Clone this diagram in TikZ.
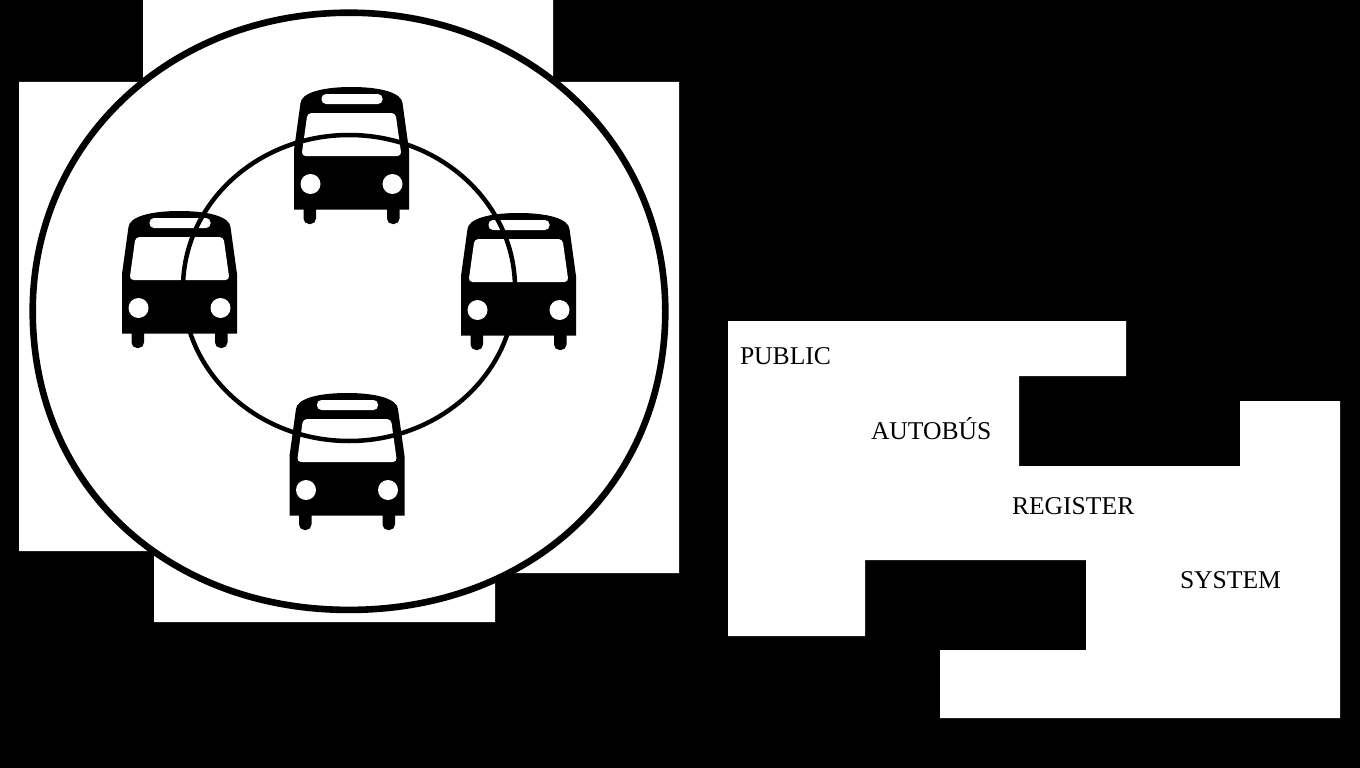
\documentclass[tikz,border=0pt]{standalone}
\usepackage{fontspec}
\setmainfont{Liberation Serif}
\tikzset{
  lbl/.style={anchor=base west,inner sep=0pt,outer sep=0pt,text=black,font=\fontsize{25.6}{28}\selectfont},
  busicon/.pic={
    % body
    \fill[black] (-57.5,122.5) -- (-57.5,63) -- (-51,16)
      .. controls (-50,6) and (-30,0) .. (0,0)
      .. controls (30,0) and (50,6) .. (51,16)
      -- (57.5,63) -- (57.5,122.5) -- cycle;
    % wheels
    \fill[black,rounded corners=5.5pt] (-48,115) rectangle (-35.5,137);
    \fill[black,rounded corners=5.5pt] (35.5,115) rectangle (48,137);
    % sign
    \fill[white,rounded corners=4.5pt] (-30,7) rectangle (31,17);
    % windscreen
    \fill[white,rounded corners=4pt] (-44,26) -- (44,26) -- (50,69) -- (-50,69) -- cycle;
    % headlights
    \fill[white] (-41,97) circle[radius=10];
    \fill[white] (41,97) circle[radius=10];
  }
}
\begin{document}
\begin{tikzpicture}[x=1pt,y=-1pt]
  \fill[black] (0,0) rectangle (1360,768);
  \useasboundingbox (0,0) rectangle (1360,768);
  % left white panel
  \fill[white] (143,0) -- (553,0) -- (553,82) -- (679,82) -- (679,573) -- (495,573)
    -- (495,622) -- (154,622) -- (154,551) -- (19,551) -- (19,82) -- (143,82) -- cycle;
  % right white panel
  \fill[white] (728,321) -- (1126,321) -- (1126,376) -- (1019,376) -- (1019,466)
    -- (1240,466) -- (1240,401) -- (1340,401) -- (1340,718) -- (940,718) -- (940,650)
    -- (1086,650) -- (1086,560) -- (865,560) -- (865,636) -- (728,636) -- cycle;
  % outer ring: slightly squarer than an ellipse, as in the reference
  \draw[black,fill=white,line width=6.6pt]
    (32.7,311) .. controls (32.7,142.5) and (170.3,12.7) .. (349,12.7)
    .. controls (527.7,12.7) and (665.3,142.5) .. (665.3,311)
    .. controls (665.3,484.4) and (532.5,609.9) .. (349,609.9)
    .. controls (165.5,609.9) and (32.7,484.4) .. (32.7,311) -- cycle;
  % buses
  \pic at (351.5,87) {busicon};
  \pic at (179.5,211) {busicon};
  \pic at (518.5,213) {busicon};
  \pic at (347,393) {busicon};
  % inner ring
  \draw[black,line width=4.5pt] (349,288) ellipse[x radius=166pt,y radius=153pt];
  % labels
  \node[lbl] (public) at (740,364) {PUBLIC};
  \node[lbl] (autobus) at (871,439) {AUTOBÚS};
  \node[lbl] (register) at (1012,514) {REGISTER};
  \node[lbl] (system) at (1180,588) {SYSTEM};
\end{tikzpicture}
\end{document}
